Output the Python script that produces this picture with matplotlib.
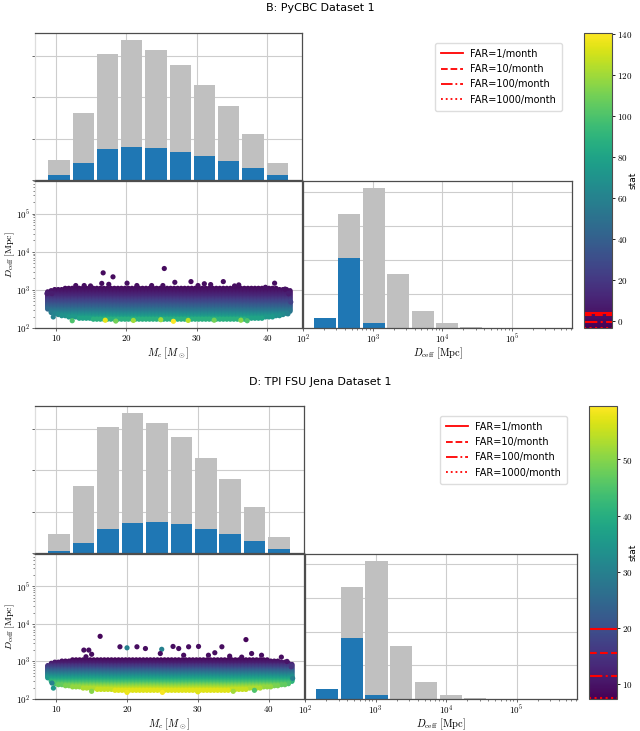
import numpy as np
import matplotlib
matplotlib.use('Agg')
import matplotlib.pyplot as plt
import matplotlib.colors as mcolors
import matplotlib.cm as cm
from matplotlib.lines import Line2D
from matplotlib.ticker import FuncFormatter, LogLocator, NullFormatter, FixedLocator

plt.rcParams['mathtext.fontset'] = 'cm'

# histogram bins (chirp mass and log10 of effective distance)
mc_edges = [8.7, 12.15, 15.6, 19.05, 22.5, 25.95, 29.4, 32.85, 36.3, 39.75, 43.2]
logd_edges = [2.14, 2.49, 2.84, 3.19, 3.54, 3.89, 4.24, 4.59, 4.94, 5.29, 5.64]

# panel B: PyCBC
B_mc_all = [240, 810, 1525, 1695, 1575, 1395, 1155, 900, 555, 200]
B_mc_found = [60, 205, 375, 405, 385, 345, 295, 230, 140, 55]
B_d_all = [300, 3350, 4120, 1590, 500, 150, 35, 10, 0, 0]
B_d_found = [300, 2060, 150, 0, 0, 0, 0, 0, 0, 0]

# panel D: TPI FSU Jena
D_mc_all = [235, 810, 1520, 1695, 1570, 1400, 1150, 895, 560, 195]
D_mc_found = [25, 125, 290, 360, 370, 350, 290, 230, 145, 50]
D_d_all = [310, 3320, 4100, 1570, 490, 130, 30, 10, 0, 0]
D_d_found = [310, 1800, 130, 0, 0, 0, 0, 0, 0, 0]

# dense cloud of found injections, read as rows of distance with their mass range
band_mc = [8.8, 9.3, 9.8, 10.3, 10.8, 11.3, 11.8, 12.3, 12.8, 13.3, 13.8, 14.3,
           14.8, 15.3, 15.8, 16.3, 16.8, 17.3, 17.8, 18.3, 18.8, 19.3, 19.8, 20.3,
           20.8, 21.3, 21.8, 22.3, 22.8, 23.3, 23.8, 24.3, 24.8, 25.3, 25.8, 26.3,
           26.8, 27.3, 27.8, 28.3, 28.8, 29.3, 29.8, 30.3, 30.8, 31.3, 31.8, 32.3,
           32.8, 33.3, 33.8, 34.3, 34.8, 35.3, 35.8, 36.3, 36.8, 37.3, 37.8, 38.3,
           38.8, 39.3, 39.8, 40.3, 40.8, 41.3, 41.8, 42.3, 42.8, 43.3]
band_d = [1100, 1020, 955, 890, 830, 775, 725, 675, 630, 590, 550, 515, 480, 445, 415,
          390, 365, 340, 315, 295, 275, 255, 240, 225, 210, 195, 180, 170]

B_band_stat = [1, 2, 3, 4, 6, 8, 10, 12, 14, 17, 20, 23, 26, 29, 32,
               35, 38, 41, 45, 49, 53, 57, 61, 65, 69, 74, 80, 88]
B_band_lo = [11.0, 9.8, 9.0, 8.8, 8.8, 8.8, 8.8, 8.8, 8.8, 8.8, 8.8, 8.8, 8.8, 8.8, 8.8,
             8.8, 8.8, 8.8, 8.8, 8.9, 9.0, 9.2, 9.5, 10.0, 10.5, 11.5, 13.0, 15.0]
B_band_hi = [41.5, 42.8, 43.3, 43.5, 43.5, 43.5, 43.5, 43.5, 43.5, 43.5, 43.5, 43.5, 43.5, 43.5, 43.5,
             43.5, 43.5, 43.5, 43.5, 43.4, 43.3, 43.2, 43.0, 42.5, 42.0, 41.0, 39.5, 37.0]

D_band_stat = [8, 9, 10, 11, 12, 14, 15.5, 17, 19, 21, 23, 25, 27, 29, 31,
               33, 35, 37, 39, 41, 43, 45, 47, 49, 51, 53, 55, 57]
D_band_lo = [12.0, 10.5, 9.8, 9.3, 9.0, 8.8, 8.8, 8.8, 8.8, 8.8, 8.8, 8.8, 8.8, 8.8, 8.8,
             8.8, 8.8, 8.9, 9.0, 9.2, 9.5, 9.8, 10.2, 11.0, 12.0, 13.5, 15.5, 18.0]
D_band_hi = [40.0, 41.5, 42.5, 43.0, 43.3, 43.5, 43.5, 43.5, 43.5, 43.5, 43.5, 43.5, 43.5, 43.5, 43.5,
             43.5, 43.5, 43.5, 43.4, 43.3, 43.0, 42.8, 42.5, 41.5, 40.5, 39.0, 37.0, 34.5]

# single points outside the dense cloud
B_out_mc = [16.7, 18.1, 25.4, 20.1, 23.6, 26.9, 29.2, 31.1, 32.0, 33.8, 36.0, 41.1, 39.8,
            12.8, 14.0, 14.9, 16.5, 17.5, 21.5, 25.2, 30.2, 35.4, 9.4, 8.7, 43.1, 42.6,
            43.4, 43.0, 17.0, 26.7, 24.9, 28.8, 18.5, 12.3, 9.6, 36.3, 37.2, 21.0, 32.5]
B_out_d = [2800, 2200, 3640, 1500, 1300, 1580, 1650, 1450, 1380, 1650, 1350, 1500, 1170,
           1300, 1300, 1270, 1480, 1400, 1300, 1300, 1300, 1270, 800, 800, 790, 1050,
           480, 235, 160, 150, 165, 158, 152, 155, 195, 160, 155, 158, 160]
B_out_stat = [1, 1, 1, 2, 2, 2, 1, 2, 2, 1, 2, 2, 3,
              2, 2, 2, 1, 2, 2, 2, 2, 2, 8, 8, 8, 3,
              25, 60, 135, 140, 120, 125, 110, 100, 60, 115, 100, 120, 110]

D_out_mc = [16.2, 36.8, 13.9, 14.6, 19.0, 20.0, 21.4, 22.6, 24.9, 26.5, 27.3, 28.7, 30.1,
            33.4, 14.2, 15.0, 24.7, 28.0, 31.5, 32.4, 34.5, 36.2, 37.6, 39.0, 41.8, 42.6,
            43.2, 43.4, 9.6, 9.4, 15.0, 20.0, 25.0, 30.0, 35.0, 38.0]
D_out_d = [4650, 3800, 2000, 2000, 2450, 2300, 2450, 2200, 2100, 2500, 2200, 2450, 2500,
           2450, 1330, 1550, 1620, 1460, 1460, 1700, 1380, 1300, 1620, 1460, 1300, 1000,
           720, 355, 195, 265, 160, 150, 150, 155, 160, 170]
D_out_stat = [8, 8, 9, 9, 9, 30, 9, 9, 30, 9, 9, 9, 9,
              9, 9, 9, 9, 9, 9, 9, 9, 9, 9, 9, 9, 10,
              15, 30, 35, 30, 50, 58, 59, 57, 52, 45]

far_labels = ['FAR=1/month', 'FAR=10/month', 'FAR=100/month', 'FAR=1000/month']
far_styles = ['-', '--', '-.', ':']
B_far = [3.8, 3.0, -0.5, -3.2]
D_far = [19.8, 15.6, 11.4, 7.45]

W, H = 640, 731
fig = plt.figure(figsize=(W / 100, H / 100), dpi=100)


def rect(x0, y0, x1, y1):
    return [x0 / W, 1 - y1 / H, (x1 - x0) / W, (y1 - y0) / H]


def sci(v, pos):
    return r'$10^{%d}$' % int(round(np.log10(v)))


def num(v, pos):
    return r'$%g$' % v


def style(ax, light_left=False):
    ax.set_axisbelow(True)
    ax.grid(True, color='#cdcdcd', lw=0.8)
    ax.tick_params(length=2.5, width=0.6, color='0.3', labelsize=6.5, pad=1)
    ax.tick_params(which='minor', length=1.5, width=0.5, color='0.3')
    for s in ax.spines.values():
        s.set_color('0.3')
        s.set_linewidth(0.9)
    if light_left:
        ax.spines['left'].set_color('#dddddd')


def panel(title, ty, boxes, mc_all, mc_found, d_all, d_found,
          b_stat, b_lo, b_hi, o_mc, o_d, o_stat, vmin, vmax, cticks, far, leg_xy):
    fig.text(0.5, 1 - ty / H, title, ha='center', va='center', fontsize=8)
    ax_t = fig.add_axes(rect(*boxes[0]))
    ax_s = fig.add_axes(rect(*boxes[1]))
    ax_r = fig.add_axes(rect(*boxes[2]))
    cax = fig.add_axes(rect(*boxes[3]))
    norm = mcolors.Normalize(vmin, vmax)
    sx0 = boxes[1][0]
    sw = boxes[1][2] - boxes[1][0]
    sh = boxes[1][3] - boxes[1][1]

    # chirp mass histogram
    e = np.array(mc_edges)
    w = np.diff(e)
    ax_t.bar(e[:-1] + 0.06 * w, mc_all, width=0.88 * w, align='edge', color='#c0c0c0')
    ax_t.bar(e[:-1] + 0.06 * w, mc_found, width=0.88 * w, align='edge', color='#1f77b4')
    ax_t.set_xlim(7, 45)
    ax_t.set_yticks([0, 500, 1000, 1500])
    ax_t.set_xticks([10, 20, 30, 40])
    ax_t.tick_params(labelleft=False, labelbottom=False, bottom=False)
    style(ax_t, light_left=True)

    # scatter
    xs, ys, cs = [], [], []
    for d, st, lo, hi in zip(band_d, b_stat, b_lo, b_hi):
        for m in band_mc:
            if lo <= m <= hi:
                xs.append(m)
                ys.append(d)
                cs.append(st)
    xs += o_mc
    ys += o_d
    cs += o_stat
    ax_s.scatter(xs, ys, c=cs, cmap='viridis', norm=norm, s=14, linewidths=0)
    ax_s.set_yscale('log')
    ax_s.set_ylim(100, 7.2e5)
    ax_s.set_xlim(7, 45)
    ax_s.set_xticks([10, 20, 30, 40])
    ax_s.xaxis.set_major_formatter(FuncFormatter(num))
    ax_s.yaxis.set_major_locator(FixedLocator([1e2, 1e3, 1e4, 1e5]))
    ax_s.yaxis.set_major_formatter(FuncFormatter(sci))
    ax_s.yaxis.set_minor_locator(LogLocator(subs=range(2, 10)))
    ax_s.yaxis.set_minor_formatter(NullFormatter())
    ax_s.set_xlabel(r'$M_c\ [M_\odot]$', fontsize=7.5)
    ax_s.set_ylabel(r'$D_{\mathrm{ceff}}\ [\mathrm{Mpc}]$', fontsize=7, va='center')
    ax_s.xaxis.set_label_coords(0.5, -18 / sh)
    ax_s.yaxis.set_label_coords(-(sx0 - 10) / sw, 0.5)
    style(ax_s, light_left=True)

    # distance histogram
    le = np.array(logd_edges)
    lo = 10 ** (le[:-1] + 0.05 * 0.35)
    hi = 10 ** (le[1:] - 0.05 * 0.35)
    ax_r.bar(lo, d_all, width=hi - lo, align='edge', color='#c0c0c0')
    ax_r.bar(lo, d_found, width=hi - lo, align='edge', color='#1f77b4')
    ax_r.set_xscale('log')
    ax_r.set_xlim(100, 7.2e5)
    ax_r.set_ylim(0, max(d_all) * 1.05)
    ax_r.set_yticks([0, 1000, 2000, 3000, 4000])
    ax_r.xaxis.set_major_locator(FixedLocator([1e2, 1e3, 1e4, 1e5]))
    ax_r.xaxis.set_major_formatter(FuncFormatter(sci))
    ax_r.xaxis.set_minor_locator(LogLocator(subs=range(2, 10)))
    ax_r.xaxis.set_minor_formatter(NullFormatter())
    ax_r.tick_params(labelleft=False, left=False)
    ax_r.set_xlabel(r'$D_{\mathrm{ceff}}\ [\mathrm{Mpc}]$', fontsize=7.5)
    ax_r.xaxis.set_label_coords(0.5, -18 / sh)
    style(ax_r)

    # colorbar with FAR thresholds
    cb = fig.colorbar(cm.ScalarMappable(norm=norm, cmap='viridis'), cax=cax)
    cb.set_ticks(cticks)
    cb.ax.yaxis.set_major_formatter(FuncFormatter(num))
    cb.ax.tick_params(labelsize=6.5, length=2.5, width=0.6, pad=1)
    cb.outline.set_edgecolor('0.3')
    for v, ls in zip(far, far_styles):
        cax.axhline(v, color='red', ls=ls, lw=1.5)
    cy = (boxes[3][1] + boxes[3][3]) / 2
    fig.text(633 / W, 1 - cy / H, 'stat', rotation=90, ha='center', va='center',
             fontsize=6.5)

    handles = [Line2D([], [], color='red', ls=ls, lw=1.3) for ls in far_styles]
    fig.legend(handles, far_labels, loc='upper right',
               bbox_to_anchor=(leg_xy[0] / W, 1 - leg_xy[1] / H),
               fontsize=7, framealpha=1, edgecolor='#dddddd',
               handlelength=2.2, labelspacing=0.55, borderpad=0.6)


panel('B: PyCBC Dataset 1', 8,
      [(35, 33, 302, 180), (35, 181, 302, 328), (303, 181, 572, 328), (584, 33, 612, 328)],
      B_mc_all, B_mc_found, B_d_all, B_d_found,
      B_band_stat, B_band_lo, B_band_hi, B_out_mc, B_out_d, B_out_stat,
      -3.4, 140.6, [0, 20, 40, 60, 80, 100, 120, 140], B_far, (567, 38))

panel('D: TPI FSU Jena Dataset 1', 382,
      [(35, 406, 304, 553), (35, 554, 304, 699), (305, 554, 577, 699), (589, 406, 617, 699)],
      D_mc_all, D_mc_found, D_d_all, D_d_found,
      D_band_stat, D_band_lo, D_band_hi, D_out_mc, D_out_d, D_out_stat,
      7.35, 59.5, [10, 20, 30, 40, 50], D_far, (572, 411))

fig.savefig('out.png', dpi=100)
